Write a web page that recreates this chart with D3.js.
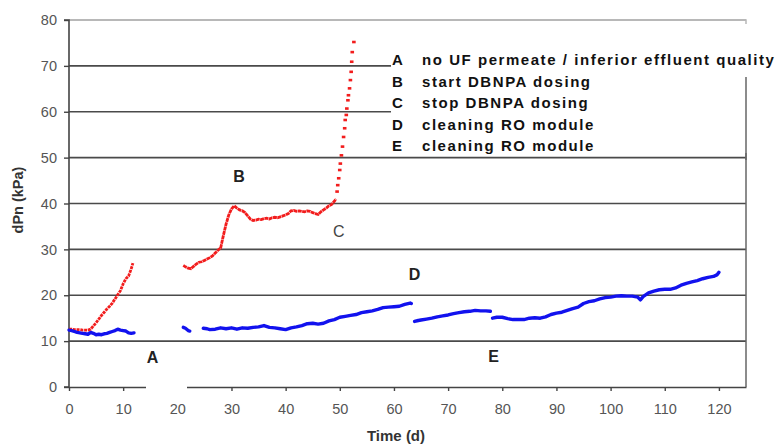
<!DOCTYPE html>
<html><head><meta charset="utf-8">
<script src="https://cdn.jsdelivr.net/npm/d3@7/dist/d3.min.js"></script>
<style>body{margin:0;background:#fff}svg{display:block}text{font-family:"Liberation Sans",Arial,sans-serif}</style>
</head><body><svg id="c" width="776" height="446"></svg>
<script>
// ---- data (day, dPn kPa) ----
const redSeg1 = [[0,12.6],[0.5,12.6],[1,12.5],[1.5,12.5],[2,12.5],[2.5,12.4],[3,12.4],[3.5,12.4],[4,12.6],[4.5,13.3],[5,14.0],[5.5,14.8],[6,15.6],[6.5,16.3],[7,17.0],[7.5,17.6],[8,18.3],[8.5,19.2],[9,20.1],[9.5,21.0],[10,22.5],[10.5,23.6],[11,24.2],[11.5,25.8],[11.8,27.0]];
const redSeg2 = [[21.1,26.5],[21.5,26.2],[22,25.9],[22.5,25.8],[23,26.3],[23.5,26.8],[24,27.2],[24.5,27.3],[25,27.6],[25.5,27.9],[26,28.2],[26.5,28.6],[27,29.2],[27.5,29.8],[28,30.3],[28.5,33.0],[29,35.5],[29.5,37.5],[30,38.8],[30.5,39.5],[31,39.0],[31.5,38.6],[32,38.4],[32.5,38.0],[33,37.3],[33.5,36.6],[34,36.3],[34.5,36.4],[35,36.6],[35.5,36.5],[36,36.7],[36.5,36.8],[37,36.6],[37.5,36.9],[38,37.0],[38.5,36.9],[39,37.1],[39.5,37.3],[40,37.5],[40.5,37.8],[41,38.4],[41.5,38.5],[42,38.3],[42.5,38.4],[43,38.3],[43.5,38.2],[44,38.4],[44.5,38.3],[45,38.0],[45.5,37.8],[46,37.6],[46.5,38.2],[47,38.6],[47.5,39.0],[48,39.5],[48.5,39.8],[49,40.5],[49.3,41.0]];
const redSeg3 = [[49.5,42.6],[49.62,44.0],[49.8,45.5],[49.99,47.3],[50.1,48.7],[50.3,50.5],[50.5,52.4],[50.7,54.5],[50.9,56.4],[51.0,58.2],[51.2,59.3],[51.3,60.7],[51.5,62.5],[51.6,63.6],[51.8,65.1],[51.96,66.9],[52.1,68.7],[52.2,70.9],[52.3,73.0],[52.6,75.2]];
const blueSeg1 = [[0,12.4],[0.5,12.3],[1,12.1],[1.5,11.9],[2,11.8],[2.5,11.7],[3,11.6],[3.5,11.5],[4,11.9],[4.5,11.7],[5,11.4],[5.5,11.5],[6,11.4],[6.5,11.6],[7,11.7],[7.5,11.9],[8,12.1],[8.5,12.3],[9,12.6],[9.5,12.4],[10,12.3],[10.5,12.2],[11,11.8],[11.5,11.7],[12,11.8]];
const blueSeg2 = [[21.1,13.0],[21.5,12.8],[22,12.3],[22.3,12.2]];
const blueSeg3 = [[24.8,12.8],[25.5,12.7],[26,12.5],[27,12.6],[28,12.9],[29,12.7],[30,12.9],[31,12.6],[32,12.9],[33,12.8],[34,13.0],[35,13.1],[36,13.4],[37,13.0],[38,12.9],[39,12.7],[40,12.5],[41,12.9],[42,13.1],[43,13.4],[44,13.8],[45,13.9],[46,13.7],[47,13.9],[48,14.4],[49,14.7],[50,15.2],[51,15.4],[52,15.6],[53,15.8],[54,16.2],[55,16.4],[56,16.6],[57,16.9],[58,17.3],[59,17.4],[60,17.5],[61,17.6],[62,18.0],[63,18.3],[63.2,18.2]];
const blueSeg4 = [[63.8,14.3],[64.5,14.5],[65,14.6],[66,14.8],[67,15.0],[68,15.3],[69,15.5],[70,15.7],[71,16.0],[72,16.2],[73,16.4],[74,16.5],[75,16.7],[76,16.6],[77,16.6],[77.8,16.5]];
const blueSeg5 = [[78.2,15.0],[79,15.2],[80,15.2],[81,14.9],[82,14.7],[83,14.7],[84,14.7],[85,15.0],[86,15.1],[87,15.0],[88,15.3],[89,15.8],[90,16.1],[91,16.3],[92,16.7],[93,17.1],[94,17.4],[95,18.2],[96,18.6],[97,18.8],[98,19.2],[99,19.5],[100,19.6],[101,19.8],[102,19.9],[103,19.8],[104,19.8],[105,19.6],[105.5,19.0],[106,19.7],[107,20.5],[108,20.9],[109,21.2],[110,21.3],[111,21.3],[112,21.6],[113,22.2],[114,22.6],[115,22.9],[116,23.2],[117,23.6],[118,23.9],[119,24.1],[119.7,24.5],[120,25.0]];
const xTicks = [0,10,20,30,40,50,60,70,80,90,100,110,120];
const yTicks = [0,10,20,30,40,50,60,70,80];
const gridValues = [10,20,30,40,50,60,70];
const eventLabels = [["A",15.4,6.4],["B",31.4,46.0],["C",49.8,34],["D",63.8,24.6],["E",78.4,6.6]];
const legendRows = [["A","no UF permeate / inferior effluent quality"],["B","start DBNPA dosing"],["C","stop DBNPA dosing"],["D","cleaning RO module"],["E","cleaning RO module"]];
const xLabel = "Time (d)", yLabel = "dPn (kPa)";

// ---- layout ----
const svg = d3.select("#c");
const L = 69, R = 746, T = 20, B = 387;
const x = d3.scaleLinear().domain([0,125]).range([L,R]);
const y = d3.scaleLinear().domain([0,80]).range([B,T]);

// gridlines
svg.append("g").selectAll("line").data(gridValues).join("line")
  .attr("x1",L).attr("x2",R).attr("y1",d=>y(d)).attr("y2",d=>y(d))
  .attr("stroke","#4a4a4a").attr("stroke-width",1.6);
// top border (light)
svg.append("line").attr("x1",L).attr("x2",R).attr("y1",y(80)).attr("y2",y(80))
  .attr("stroke","#b8b8b8").attr("stroke-width",2);

// axes
const yAxis = svg.append("g").attr("transform",`translate(${L},0)`)
  .call(d3.axisLeft(y).tickValues(yTicks).tickSize(5).tickPadding(7));
const xAxis = svg.append("g").attr("transform",`translate(0,${B})`)
  .call(d3.axisBottom(x).tickValues(xTicks).tickSize(4).tickPadding(13).tickSizeOuter(0));
[yAxis,xAxis].forEach(a=>{
  a.select(".domain").attr("stroke","#444").attr("stroke-width",1.6);
  a.selectAll(".tick line").attr("stroke","#444").attr("stroke-width",1.4);
  a.selectAll(".tick text").attr("fill","#555").style("font-size","14.5px");
});
yAxis.select(".domain").attr("d",`M-5,${T}H0V${B}H-5`);
// gap in bottom axis line
svg.append("rect").attr("x",146).attr("y",B-4).attr("width",41).attr("height",9).attr("fill","#fff");

// right border
svg.append("line").attr("x1",R).attr("x2",R).attr("y1",77).attr("y2",B)
  .attr("stroke","#666").attr("stroke-width",1.5);
svg.append("path").attr("d",`M${R-2},${T}H${R}V${T+4}`).attr("fill","none").attr("stroke","#b8b8b8").attr("stroke-width",1.5);

// series
const line = d3.line().x(d=>x(d[0])).y(d=>y(d[1]));
const red = "#f21d1d", blue = "#1212ee";
[redSeg1, redSeg2].forEach((s,i)=>{
  svg.append("path").datum(s).attr("d",line).attr("fill","none")
    .attr("stroke",red).attr("stroke-width",2.8).attr("stroke-dasharray",i===0?"3,0.8":"4,0.5");
});
svg.append("g").selectAll("rect").data(redSeg3).join("rect")
  .attr("x",d=>x(d[0])-1.8).attr("y",d=>y(d[1])-1.3).attr("width",3.6).attr("height",2.6).attr("fill",red);
[blueSeg1, blueSeg2, blueSeg3, blueSeg4, blueSeg5].forEach(s=>{
  svg.append("path").datum(s).attr("d",line).attr("fill","none")
    .attr("stroke",blue).attr("stroke-width",3.4).attr("stroke-linecap","round").attr("stroke-linejoin","round");
});

// legend box
svg.append("rect").attr("x",391).attr("y",26).attr("width",385).attr("height",127).attr("fill","#fff");
svg.append("line").attr("x1",R).attr("x2",R).attr("y1",77).attr("y2",160)
  .attr("stroke","#666").attr("stroke-width",1.5);
const lg = svg.append("g").style("font-size","15px").style("font-weight","bold").attr("fill","#111");
legendRows.forEach((r,i)=>{
  const yy = 65 + i*21.6;
  lg.append("text").attr("x",392).attr("y",yy).text(r[0]);
  lg.append("text").attr("x",422).attr("y",yy).style("letter-spacing","1.55px").text(r[1]);
});

// event labels
svg.append("g").selectAll("text").data(eventLabels).join("text")
  .attr("x",d=>x(d[1])).attr("y",d=>y(d[2])).attr("text-anchor","middle")
  .attr("dy","0.35em")
  .style("font-size","16px").style("font-weight",d=>d[0]==="C"?"normal":"bold")
  .attr("fill",d=>d[0]==="C"?"#444":"#222").text(d=>d[0]);

// axis titles
svg.append("text").attr("x",396).attr("y",441).attr("text-anchor","middle")
  .style("font-size","15px").style("font-weight","bold").attr("fill","#333").text(xLabel);
svg.append("text").attr("transform","translate(23,200) rotate(-90)").attr("text-anchor","middle")
  .style("font-size","14.5px").style("font-weight","bold").attr("fill","#333").text(yLabel);
</script></body></html>
